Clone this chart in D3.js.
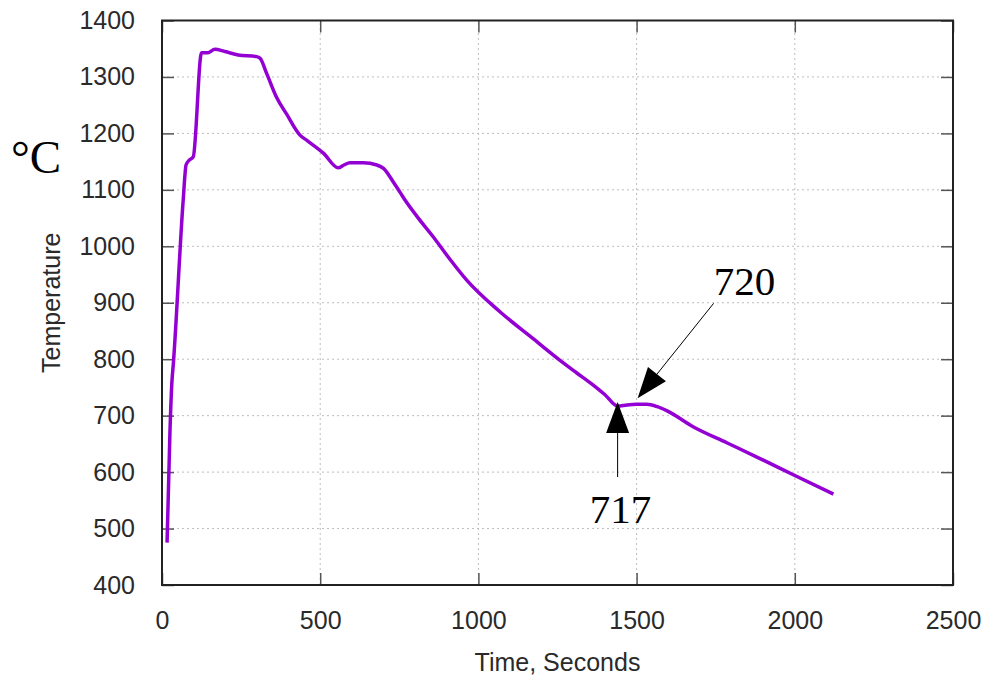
<!DOCTYPE html>
<html>
<head>
<meta charset="utf-8">
<script src="https://cdn.jsdelivr.net/npm/d3@7"></script>
<style>
  body { margin: 0; background: #fff; }
  svg { display: block; }
</style>
</head>
<body>
<svg id="chart"></svg>
<script>
// values
let times = [16, 25, 31, 36, 67, 76, 85, 99, 125, 146, 167, 199, 241, 299, 310, 331,
  362, 394, 436, 457, 510, 557, 575, 594, 636, 679, 700, 731, 753, 768, 810, 857,
  910, 963, 1068, 1174, 1258, 1310, 1363, 1400, 1440, 1470, 1500, 1532, 1565, 1595,
  1680, 1785, 1890, 2000, 2122];
let temps = [475, 669, 757, 793, 1082, 1144, 1152, 1159, 1343, 1343, 1349, 1345, 1339, 1336, 1333, 1306,
  1264, 1234, 1197, 1188, 1165, 1139, 1144, 1148, 1148, 1144, 1138, 1114, 1095, 1082, 1050, 1017,
  977, 940, 884, 836, 798, 776, 754, 737, 717, 719, 720, 720, 716, 709,
  680, 652, 624, 594, 561];
let xTicks = [0, 500, 1000, 1500, 2000, 2500];
let yTicks = [400, 500, 600, 700, 800, 900, 1000, 1100, 1200, 1300, 1400];
let noteLabels = ["717", "720"];
let noteTimes = [1440, 1500];
let noteTemps = [717, 720];

let width = 990, height = 677;
let margin = { top: 20.5, right: 37, bottom: 92, left: 162 };

let svg = d3.select("#chart")
  .attr("width", width)
  .attr("height", height)
  .attr("viewBox", `0 0 ${width} ${height}`);

let x = d3.scaleLinear().domain([0, 2500]).range([margin.left, width - margin.right]);
let y = d3.scaleLinear().domain([400, 1400]).range([height - margin.bottom, margin.top]);

let x0 = x.range()[0], x1 = x.range()[1];
let y0 = y.range()[0], y1 = y.range()[1];

// grid
let grid = svg.append("g")
  .attr("stroke", "#bdbdbd")
  .attr("stroke-width", 1)
  .attr("stroke-dasharray", "2,3");

grid.selectAll("line.gy")
  .data(yTicks.slice(1, -1))
  .enter()
  .append("line")
  .attr("x1", x0).attr("x2", x1)
  .attr("y1", d => y(d)).attr("y2", d => y(d));

grid.selectAll("line.gx")
  .data(xTicks.slice(1, -1))
  .enter()
  .append("line")
  .attr("y1", y0).attr("y2", y1)
  .attr("x1", d => x(d)).attr("x2", d => x(d));

// axes (ticks inside, mirrored like gnuplot)
let tickLen = 12;
let tickFont = "'Liberation Sans', Arial, sans-serif";
let fmt = d3.format("d");

svg.append("g")
  .attr("transform", `translate(0,${y0})`)
  .call(d3.axisBottom(x).tickValues(xTicks).tickFormat(fmt).tickSizeInner(-tickLen).tickSizeOuter(0).tickPadding(26))
  .call(g => g.select(".domain").remove());

svg.append("g")
  .attr("transform", `translate(0,${y1})`)
  .call(d3.axisTop(x).tickValues(xTicks).tickSizeInner(-tickLen).tickSizeOuter(0).tickFormat(""))
  .call(g => g.select(".domain").remove());

svg.append("g")
  .attr("transform", `translate(${x0},0)`)
  .call(d3.axisLeft(y).tickValues(yTicks).tickFormat(fmt).tickSizeInner(-tickLen).tickSizeOuter(0).tickPadding(27))
  .call(g => g.select(".domain").remove());

svg.append("g")
  .attr("transform", `translate(${x1},0)`)
  .call(d3.axisRight(y).tickValues(yTicks).tickSizeInner(-tickLen).tickSizeOuter(0).tickFormat(""))
  .call(g => g.select(".domain").remove());

svg.selectAll(".tick line")
  .attr("stroke", "#555")
  .attr("stroke-width", 1.5);

svg.selectAll(".tick text")
  .style("font-family", tickFont)
  .style("font-size", "25px")
  .attr("fill", "#2a2a2a");

// frame
svg.append("rect")
  .attr("x", x0).attr("y", y1)
  .attr("width", x1 - x0).attr("height", y0 - y1)
  .attr("fill", "none")
  .attr("stroke", "#222")
  .attr("stroke-width", 2);

// temperature curve
let data = times.map((t, i) => ({ t: t, v: temps[i] }));

let line = d3.line()
  .x(d => x(d.t))
  .y(d => y(d.v))
  .curve(d3.curveMonotoneX);

svg.append("path")
  .datum(data)
  .attr("d", line)
  .attr("fill", "none")
  .attr("stroke", "#9400d3")
  .attr("stroke-width", 3.5)
  .attr("stroke-linejoin", "round");

// axis titles
svg.append("text")
  .attr("x", (x0 + x1) / 2)
  .attr("y", 671)
  .attr("text-anchor", "middle")
  .style("font-family", tickFont)
  .style("font-size", "25px")
  .attr("fill", "#2a2a2a")
  .text("Time, Seconds");

svg.append("text")
  .attr("transform", `translate(60,${(y0 + y1) / 2}) rotate(-90)`)
  .attr("text-anchor", "middle")
  .style("font-family", tickFont)
  .style("font-size", "25px")
  .attr("fill", "#2a2a2a")
  .text("Temperature");

svg.append("text")
  .attr("x", 36)
  .attr("y", 173)
  .attr("text-anchor", "middle")
  .style("font-family", "'Liberation Serif', 'Times New Roman', serif")
  .style("font-size", "47px")
  .attr("fill", "#000")
  .text("°C");

// annotations: arrow from label towards the point
function arrow(tip, tail) {
  let dx = tip[0] - tail[0], dy = tip[1] - tail[1];
  let len = Math.sqrt(dx * dx + dy * dy);
  let ux = dx / len, uy = dy / len;
  let headLen = 31, halfW = 11.5;
  let bx = tip[0] - ux * headLen, by = tip[1] - uy * headLen;

  svg.append("line")
    .attr("x1", tail[0]).attr("y1", tail[1])
    .attr("x2", bx).attr("y2", by)
    .attr("stroke", "#000")
    .attr("stroke-width", 1);

  svg.append("path")
    .attr("d", "M" + tip[0] + "," + tip[1] +
      "L" + (bx - uy * halfW) + "," + (by + ux * halfW) +
      "L" + (bx + uy * halfW) + "," + (by - ux * halfW) + "Z")
    .attr("fill", "#000");
}

// 717: arrow from below, label below
let px = x(noteTimes[0]), py = y(noteTemps[0]) - 4;
arrow([px, py], [px, py + 75]);
svg.append("text")
  .attr("x", px + 3)
  .attr("y", py + 121)
  .attr("text-anchor", "middle")
  .style("font-family", "'Liberation Serif', 'Times New Roman', serif")
  .style("font-size", "41px")
  .attr("fill", "#000")
  .text(noteLabels[0]);

// 720: arrow from upper right, label above
let qx = x(noteTimes[1]) + 1, qy = y(noteTemps[1]) - 6;
arrow([qx, qy], [qx + 76, qy - 95]);
svg.append("text")
  .attr("x", qx + 107)
  .attr("y", qy - 103)
  .attr("text-anchor", "middle")
  .style("font-family", "'Liberation Serif', 'Times New Roman', serif")
  .style("font-size", "41px")
  .attr("fill", "#000")
  .text(noteLabels[1]);
</script>
</body>
</html>
